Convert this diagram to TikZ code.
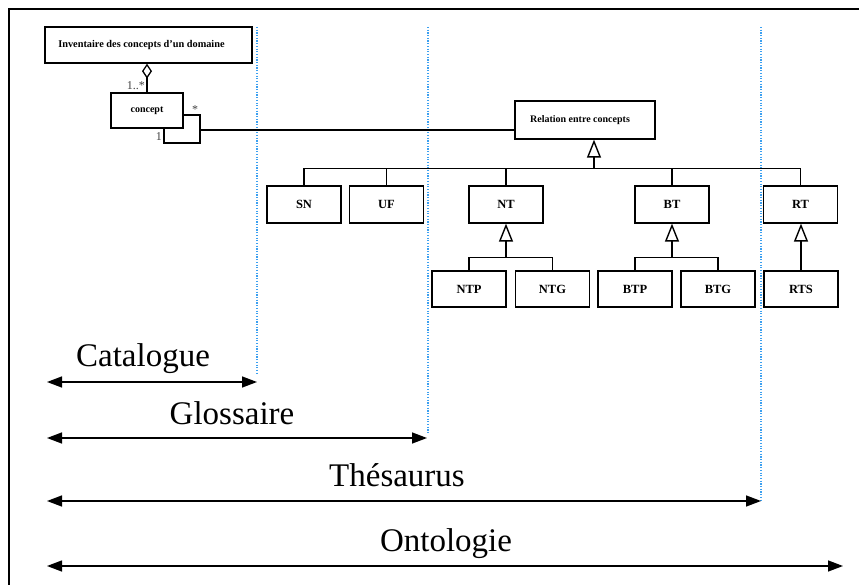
\documentclass[tikz,border=0pt]{standalone}
\usepackage{fontspec}
\setmainfont{Liberation Serif}
\usepackage{xcolor}
\usepackage{tikz}
\usetikzlibrary{arrows.meta}

\definecolor{seplinecol}{RGB}{60,160,240}

\begin{document}
\begin{tikzpicture}[
  x=1pt, y=-1pt,
  box/.style={draw, line width=1.3pt, align=center, minimum width=74pt, minimum height=37pt, inner sep=0pt, font=\fontsize{12.5}{14}\selectfont\bfseries},
  bigbox/.style={box, font=\fontsize{10}{12}\selectfont\bfseries},
  mult/.style={font=\fontsize{12}{14}\selectfont, text=black!75, inner sep=1pt},
  link/.style={line width=1.3pt},
  inherit/.style={line width=1.7pt, -{Triangle[open, length=18pt, width=14pt, line width=1.4pt]}},
  aggr/.style={line width=1.3pt, -{Diamond[open, length=15pt, width=10pt, line width=1.3pt]}},
  sepline/.style={seplinecol, line width=1.2pt, dash pattern=on 1.2pt off 1.5pt},
  span/.style={line width=1.4pt, {Triangle[length=15pt, width=11pt]}-{Triangle[length=15pt, width=11pt]}},
  spanlabel/.style={anchor=base, font=\fontsize{33}{36}\selectfont, inner sep=0pt}
]
\useasboundingbox (0,0) rectangle (859,585);
\clip (0,0) rectangle (859,585);

% cadre
\draw[line width=2.4pt] (9,600) -- (9,9) -- (870,9);

% separations
\draw[sepline] (257,27) -- (257,373);
\draw[sepline] (428,27) -- (428,433);
\draw[sepline] (761,27) -- (761,500);

% inventaire et concept
\node[bigbox, minimum width=207pt, minimum height=36pt, font=\fontsize{10.3}{12}\selectfont\bfseries] (inv) at (148.5,45) {\hspace*{-14pt}Inventaire des concepts d'un domaine};
\node[bigbox, minimum width=72pt, minimum height=35pt] (concept) at (147,110.5) {concept};
\node[bigbox, minimum width=140pt, minimum height=38pt] (rel) at (585,120) {\hspace*{-10pt}Relation entre concepts};

\draw[aggr] (concept.north) -- (concept.north |- inv.south);
\node[mult, anchor=east] (m1) at (146,86) {1..*};

\coordinate (loop) at (200,130);
\draw[link] ([yshift=-4.5pt]concept.east) -| (200,143) -| ([xshift=17pt]concept.south);
\draw[link] (loop) -- (loop -| rel.west);
\node[mult] (m2) at (195,110) {*};
\node[mult, anchor=east] (m3) at (163,137) {1};

% relations
\node[box] (sn) at (304,204.5) {SN};
\node[box] (uf) at (386.5,204.5) {UF};
\node[box] (nt) at (506,204.5) {NT};
\node[box] (bt) at (672,204.5) {BT};
\node[box] (rt) at (800.5,204.5) {RT};

\node[box, minimum height=36pt] (ntp) at (469,289) {NTP};
\node[box, minimum height=36pt] (ntg) at (552.5,289) {NTG};
\node[box, minimum height=36pt] (btp) at (635,289) {BTP};
\node[box, minimum height=36pt] (btg) at (718,289) {BTG};
\node[box, minimum height=36pt] (rts) at (801,289) {RTS};

% heritage
\draw[link] (sn.north) -- ++(0,-17) coordinate (bus) -- (bus -| rt.north) -- (rt.north);
\draw[link] (uf.north) -- (uf.north |- bus);
\draw[link] (nt.north) -- (nt.north |- bus);
\draw[link] (bt.north) -- (bt.north |- bus);
\draw[inherit] (bus -| 594,0) -- (rel.south -| 594,0);

\draw[link] (ntp.north) -- ++(0,-13) coordinate (ntbus) -- (ntbus -| ntg.north) -- (ntg.north);
\draw[inherit] (ntbus -| nt.south) -- (nt.south);
\draw[link] (btp.north) -- ++(0,-13) coordinate (btbus) -- (btbus -| btg.north) -- (btg.north);
\draw[inherit] (btbus -| bt.south) -- (bt.south);
\draw[inherit] (rts.north) -- (rts.north |- rt.south);

% portees
\coordinate (cat0) at (47,382);  \coordinate (cat1) at (257,382);
\coordinate (glo0) at (47,438);  \coordinate (glo1) at (427,438);
\coordinate (the0) at (47,501);  \coordinate (the1) at (761,501);
\coordinate (ont0) at (47,566);  \coordinate (ont1) at (843,566);

\draw[span] (cat0) -- (cat1);
\draw[span] (glo0) -- (glo1);
\draw[span] (the0) -- (the1);
\draw[span] (ont0) -- (ont1);

\node[spanlabel] (catlbl) at (143,366) {Catalogue};
\node[spanlabel] (glolbl) at (232,424) {Glossaire};
\node[spanlabel] (thelbl) at (397,486) {Thésaurus};
\node[spanlabel] (ontlbl) at (446,551) {Ontologie};
\end{tikzpicture}
\end{document}
